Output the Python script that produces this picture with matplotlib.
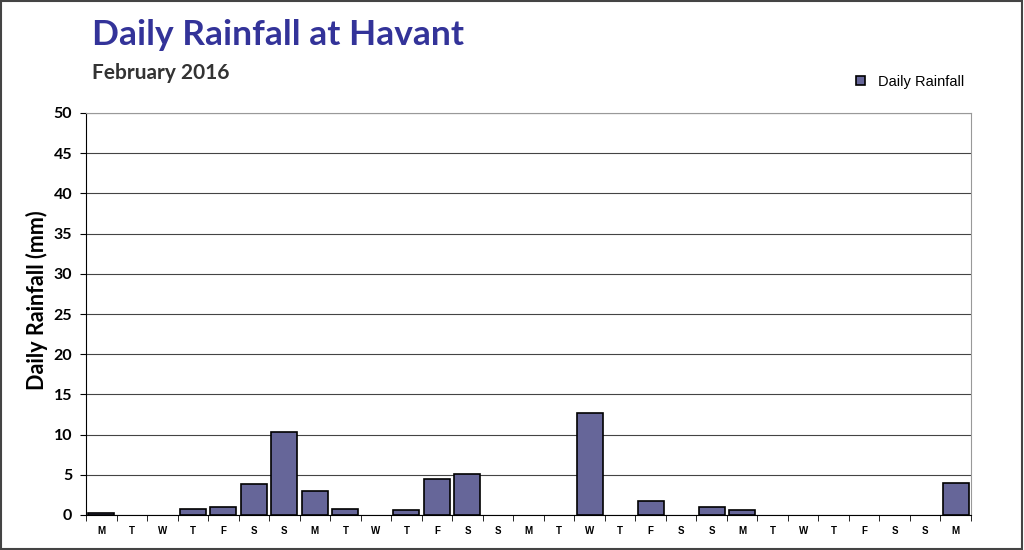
import matplotlib as mpl
from matplotlib import pyplot as plt
from matplotlib.patches import Rectangle
import numpy as np

days = ['M', 'T', 'W', 'T', 'F', 'S', 'S',
        'M', 'T', 'W', 'T', 'F', 'S', 'S',
        'M', 'T', 'W', 'T', 'F', 'S', 'S',
        'M', 'T', 'W', 'T', 'F', 'S', 'S',
        'M']
rain = [0.2, 0, 0, 0.7, 1.0, 3.9, 10.3,
        3.0, 0.7, 0, 0.6, 4.5, 5.1, 0,
        0, 0, 12.7, 0, 1.8, 0, 1.0,
        0.6, 0, 0, 0, 0, 0, 0,
        4.0]
yticks = np.arange(0, 55, 5)

fig = plt.figure(figsize=(10.24, 5.5), dpi=100)
ax = fig.add_axes([86/1024, 35/550, (971-86)/1024, (515-113)/550])

x = np.arange(len(rain))
edges = ['black' if v > 0 else 'none' for v in rain]
ax.bar(x, rain, width=0.85, color='#666699', edgecolor=edges, linewidth=1.2,
       label='Daily Rainfall', zorder=3)

ax.set_xlim(-0.5, len(rain) - 0.5)
ax.set_ylim(0, 50)
ax.set_yticks(yticks)
ax.set_yticklabels([str(v) for v in yticks], fontsize=11.5, fontweight='bold', family='Lato')
ax.yaxis.grid(True, color='#444444', linewidth=0.8, zorder=0)

# day labels centred, ticks on the boundaries
ax.set_xticks(x)
ax.set_xticklabels(days, fontsize=7, fontweight='bold', family='Liberation Sans')
ax.tick_params(axis='x', length=0, pad=8)
ax.set_xticks(np.arange(-0.5, len(rain), 1), minor=True)
ax.tick_params(axis='x', which='minor', length=4, direction='out', color='black')
ax.tick_params(axis='y', length=4, direction='out', pad=6)

for s in ['top', 'right']:
    ax.spines[s].set_color('#999999')
ax.spines['left'].set_color('black')
ax.spines['bottom'].set_color('black')

ax.set_ylabel('Daily Rainfall (mm)', fontsize=15.5, fontweight='bold', family='Lato')
ax.yaxis.set_label_coords(-0.043, 0.535)

fig.text(92/1024, 1 - 35/550, 'Daily Rainfall at Havant', fontsize=25.5, fontweight='bold',
         color='#333399', family='Lato', va='center')
fig.text(92/1024, 1 - 73/550, 'February 2016', fontsize=15, fontweight='bold',
         color='#333333', family='Lato', va='center')

leg = fig.legend(loc='center', bbox_to_anchor=(910/1024, 1 - 82/550), frameon=False,
                 prop={'family': 'Liberation Sans', 'size': 10.5},
                 handlelength=0.6, handleheight=0.6, handletextpad=0.9)

fig.patches.append(Rectangle((0.001, 0.001), 0.997, 0.997, transform=fig.transFigure,
                             fill=False, edgecolor='#444444', linewidth=1.5))

fig.savefig('out.png', dpi=100)
